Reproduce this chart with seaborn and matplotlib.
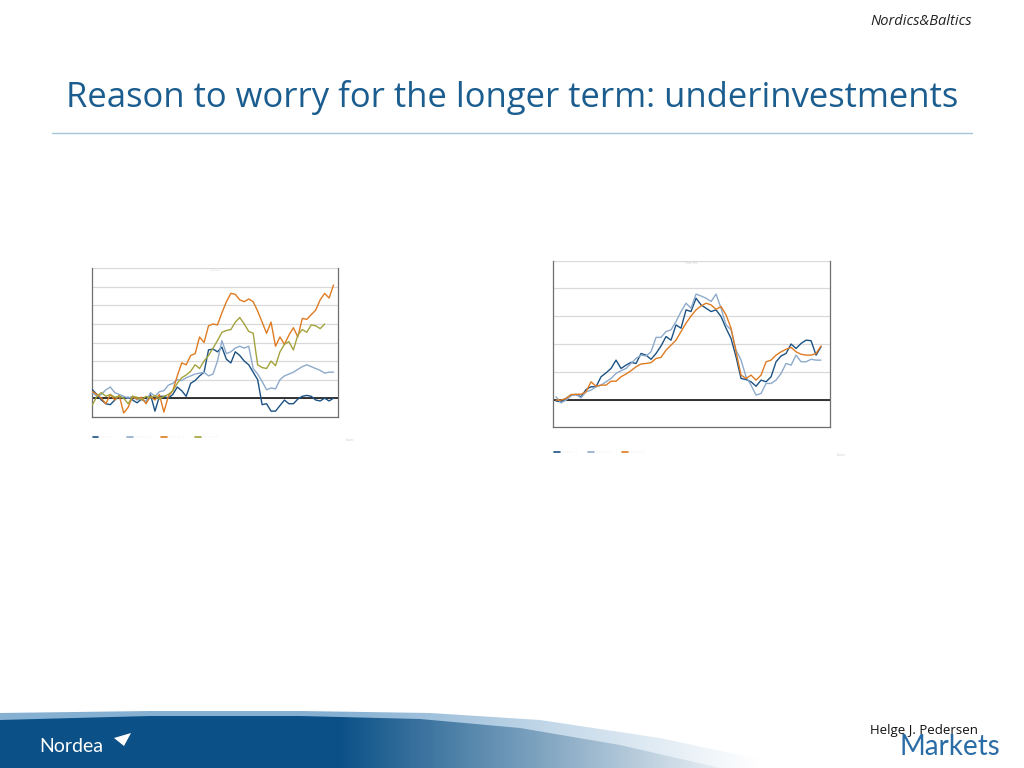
import matplotlib

matplotlib.use("Agg")
import matplotlib.pyplot as plt
import seaborn as sns
import pandas as pd
import numpy as np
from matplotlib.lines import Line2D
from matplotlib.patches import Polygon

# ---- data (index = period, value = chart units) ----
LEFT_NAMES = ["Series 1", "Series 2", "Series 3", "Series 4"]
left_s1 = [0.45, 0.2, -0.1, -0.3, -0.35, -0.1, 0.1, 0.0, 0.05, -0.1, -0.25, -0.05, -0.2, 0.2, -0.7,
           0.1, 0.1, 0.0, 0.2, 0.6, 0.4, 0.1, 0.8, 0.95, 1.2, 1.4, 2.6, 2.65, 2.5, 2.75, 2.1, 1.9,
           2.5, 2.3, 2.0, 1.8, 1.4, 1.0, -0.35, -0.3, -0.7, -0.7, -0.4, -0.1, -0.3, -0.3, -0.05,
           0.1, 0.15, 0.1, -0.1, -0.15, 0.0, -0.15, 0.0]
left_s2 = [0.3, 0.1, 0.2, 0.45, 0.6, 0.3, 0.2, 0.1, 0.0, 0.1, -0.1, 0.0, -0.2, 0.3, 0.1, 0.35,
           0.4, 0.7, 0.8, 1.0, 0.95, 1.1, 1.2, 1.3, 1.35, 1.4, 1.2, 1.3, 2.0, 3.1, 2.4, 2.5, 2.7,
           2.8, 2.7, 2.8, 1.6, 1.3, 0.9, 0.45, 0.55, 0.5, 1.0, 1.2, 1.3, 1.4, 1.55, 1.7, 1.8, 1.7,
           1.6, 1.5, 1.35, 1.4, 1.4]
left_s3 = [0.35, 0.2, 0.0, -0.3, 0.2, -0.1, 0.15, -0.8, -0.5, 0.1, -0.05, 0.05, -0.3, 0.1, -0.1,
           0.2, -0.75, 0.1, 0.4, 1.2, 1.9, 1.8, 2.3, 2.4, 3.3, 3.0, 3.9, 4.0, 3.95, 4.6, 5.2, 5.65,
           5.6, 5.3, 5.2, 5.35, 5.2, 4.7, 4.1, 3.5, 4.1, 2.8, 3.3, 2.9, 3.4, 3.8, 3.3, 4.3, 4.25,
           4.5, 4.75, 5.3, 5.65, 5.4, 6.1]
left_s4 = [-0.36, 0.1, 0.3, 0.1, 0.2, 0.05, 0.1, 0.0, -0.3, 0.1, 0.05, -0.1, 0.1, 0.0, 0.15,
           -0.05, 0.1, 0.2, 0.4, 0.8, 1.1, 1.25, 1.45, 1.8, 1.6, 2.0, 2.3, 2.7, 3.1, 3.55, 3.65,
           3.7, 4.1, 4.35, 4.0, 3.6, 3.5, 1.8, 1.65, 1.6, 2.0, 1.75, 2.5, 2.9, 3.05, 2.6, 3.4,
           3.7, 3.55, 3.95, 3.9, 3.75, 4.0]

RIGHT_NAMES = ["Series 1", "Series 2", "Series 3"]
right_s1 = [-0.05, -0.08, 0.04, 0.16, 0.18, 0.10, 0.36, 0.46, 0.46, 0.82, 0.96, 1.12, 1.42, 1.12,
            1.24, 1.34, 1.30, 1.66, 1.60, 1.45, 1.66, 1.93, 2.27, 2.14, 2.69, 2.57, 3.23, 3.17,
            3.65, 3.41, 3.29, 3.17, 3.23, 2.99, 2.57, 2.20, 1.54, 0.76, 0.72, 0.64, 0.48, 0.70,
            0.64, 0.82, 1.36, 1.57, 1.66, 2.00, 1.84, 2.02, 2.14, 2.12, 1.60, 1.90]
right_s2 = [0.10, -0.12, -0.02, 0.13, 0.19, 0.06, 0.28, 0.34, 0.46, 0.52, 0.64, 0.76, 0.94, 1.04,
            1.12, 1.30, 1.48, 1.60, 1.57, 1.72, 2.24, 2.24, 2.45, 2.51, 2.81, 3.17, 3.47, 3.29,
            3.80, 3.73, 3.65, 3.53, 3.80, 3.29, 2.69, 2.51, 1.78, 1.42, 0.82, 0.52, 0.16, 0.22,
            0.58, 0.58, 0.70, 0.94, 1.30, 1.24, 1.60, 1.36, 1.36, 1.45, 1.42, 1.42]
right_s3 = [-0.02, -0.02, 0.04, 0.18, 0.19, 0.19, 0.28, 0.64, 0.48, 0.52, 0.52, 0.66, 0.66, 0.82,
            0.92, 1.04, 1.18, 1.28, 1.30, 1.33, 1.48, 1.52, 1.78, 1.96, 2.14, 2.45, 2.75, 3.01,
            3.23, 3.37, 3.47, 3.41, 3.25, 3.35, 3.05, 2.57, 1.72, 0.88, 0.76, 0.88, 0.70, 0.88,
            1.36, 1.42, 1.60, 1.72, 1.81, 1.88, 1.72, 1.63, 1.60, 1.60, 1.66, 1.93]

TITLE = "Reason to worry for the longer term: underinvestments"
SECTION = "Nordics&Baltics"
AUTHOR = "Helge J. Pedersen"

C_DARK = "#1c5283"
C_LIGHT = "#8eaacb"
C_ORANGE = "#df7b22"
C_OLIVE = "#a3a33d"
C_TITLE = "#1b5d8f"
C_NORDEA = "#0b5187"


def long_frame(names, series):
    rows = []
    for name, vals in zip(names, series):
        for i, v in enumerate(vals):
            rows.append({"x": i, "value": v, "series": name})
    return pd.DataFrame(rows)


def style_axes(ax, ylim, xlim, xticks):
    ax.set_ylim(*ylim)
    ax.set_xlim(*xlim)
    ax.set_yticks(range(ylim[0], ylim[1] + 1))
    ax.set_xticks(xticks)
    ax.yaxis.grid(True, color="#d9d9d9", linewidth=0.9)
    ax.xaxis.grid(False)
    ax.set_axisbelow(True)
    ax.axhline(0, color="black", linewidth=1.1, zorder=1)
    ax.tick_params(axis="both", direction="out", length=2.5, width=0.7, color="#7f7f7f",
                   labelbottom=False, labelleft=False)
    for side in ("left", "bottom", "right"):
        ax.spines[side].set_color("#6f6f6f")
        ax.spines[side].set_linewidth(0.9)
    ax.spines["top"].set_visible(False)
    ax.set_xlabel("")
    ax.set_ylabel("")


sns.set_style("white")
plt.rcParams["font.family"] = ["Open Sans", "DejaVu Sans"]

fig = plt.figure(figsize=(10.24, 7.68), dpi=100)

# ---- header ----
fig.text(0.949, 0.972, SECTION, ha="right", va="center", fontsize=10.5, style="italic",
         color="#222222")
fig.text(0.5, 0.873, TITLE, ha="center", va="center", fontsize=24.9, color=C_TITLE)
fig.add_artist(Line2D([0.051, 0.949], [0.827, 0.827], color="#a3c6d8", linewidth=1.0))

# ---- left chart ----
ax1 = fig.add_axes([0.0896, 0.4574, 0.2405, 0.1932])
df_left = long_frame(LEFT_NAMES, [left_s1, left_s2, left_s3, left_s4])
pal_left = dict(zip(LEFT_NAMES, [C_DARK, C_LIGHT, C_ORANGE, C_OLIVE]))
sns.lineplot(data=df_left, x="x", y="value", hue="series", palette=pal_left, ax=ax1,
             linewidth=1.0, legend=False, zorder=3)
style_axes(ax1, (-1, 7), (-0.15, 55.0), range(0, 56, 4))
ax1.text(0.5, 0.985, "Chart title", transform=ax1.transAxes, ha="center", va="center",
         fontsize=1.6, color="#c8c8c8")
h1 = [Line2D([], [], color=c, linewidth=1.2) for c in [C_DARK, C_LIGHT, C_ORANGE, C_OLIVE]]
ax1.legend(h1, LEFT_NAMES, loc="center left", bbox_to_anchor=(-0.012, -0.14), ncol=4,
           frameon=False, fontsize=3, handlelength=1.4, handletextpad=0.5, columnspacing=2.6,
           labelcolor="#f2f2f2")
ax1.text(1.05, -0.16, "Source", transform=ax1.transAxes, ha="center", va="center",
         fontsize=2, color="#c8c8c8")

# ---- right chart ----
ax2 = fig.add_axes([0.5404, 0.4436, 0.2702, 0.2169])
df_right = long_frame(RIGHT_NAMES, [right_s1, right_s2, right_s3])
pal_right = dict(zip(RIGHT_NAMES, [C_DARK, C_LIGHT, C_ORANGE]))
sns.lineplot(data=df_right, x="x", y="value", hue="series", palette=pal_right, ax=ax2,
             linewidth=1.0, legend=False, zorder=3)
style_axes(ax2, (-1, 5), (-0.53, 54.8), np.arange(-0.5, 55, 4))
ax2.text(0.5, 0.985, "Chart title", transform=ax2.transAxes, ha="center", va="center",
         fontsize=2, color="#c8c8c8")
h2 = [Line2D([], [], color=c, linewidth=1.2) for c in [C_DARK, C_LIGHT, C_ORANGE]]
ax2.legend(h2, RIGHT_NAMES, loc="center left", bbox_to_anchor=(-0.012, -0.15), ncol=3,
           frameon=False, fontsize=3, handlelength=1.4, handletextpad=0.5, columnspacing=2.6,
           labelcolor="#f2f2f2")
ax2.text(1.04, -0.165, "Source", transform=ax2.transAxes, ha="center", va="center",
         fontsize=2, color="#c8c8c8")

# ---- footer band ----
fax = fig.add_axes([0, 0, 1, 70 / 768])
fax.set_xlim(0, 1024)
fax.set_ylim(768, 698)
fax.axis("off")
top_edge = [(0, 720), (150, 716), (300, 716), (420, 719), (520, 728), (620, 745), (720, 768)]
light_edge = [(0, 713), (150, 711), (300, 711), (430, 713), (540, 720), (660, 738), (800, 768)]
strip = Polygon(light_edge + [(0, 768)], closed=True, facecolor="none", edgecolor="none")
band = Polygon(top_edge + [(0, 768)], closed=True, facecolor="none", edgecolor="none")
fax.add_patch(strip)
fax.add_patch(band)
grad = np.linspace(0, 1, 512)
ramp = np.clip((grad * 1024 - 340) / 420, 0, 1)
dark = np.array(matplotlib.colors.to_rgb(C_NORDEA))
lite = np.array(matplotlib.colors.to_rgb("#86b0d2"))
white = np.ones(3)
img_dark = (dark[None, :] * (1 - ramp[:, None]) + white[None, :] * ramp[:, None])[None, :, :]
img_lite = (lite[None, :] * (1 - ramp[:, None]) + white[None, :] * ramp[:, None])[None, :, :]
im1 = fax.imshow(img_lite, extent=(0, 1024, 768, 698), aspect="auto", zorder=1)
im1.set_clip_path(strip)
im2 = fax.imshow(img_dark, extent=(0, 1024, 768, 698), aspect="auto", zorder=2)
im2.set_clip_path(band)
fax.set_ylim(768, 698)
fax.text(39, 747, "Nordea", ha="left", va="center", fontsize=14, color="white", zorder=3,
         family=["Lato", "DejaVu Sans"])
fax.add_patch(Polygon([(114, 738), (131, 733), (124, 746)], closed=True, facecolor="white",
                      edgecolor="none", zorder=3))
fig.text(0.85, 0.049, AUTHOR, ha="left", va="center", fontsize=9.5, color="#111111")
fig.text(0.977, 0.027, "Markets", ha="right", va="center", fontsize=20, color="#2a6ca6",
         family=["Lato", "DejaVu Sans"])

fig.savefig("out.png", dpi=100)
